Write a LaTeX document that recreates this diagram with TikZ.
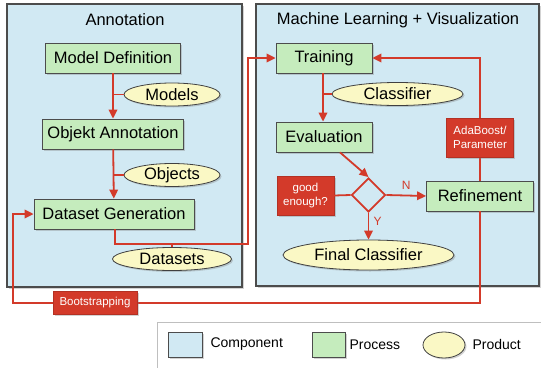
\documentclass[tikz,border=0pt]{standalone}
\usepackage{fontspec}
\setmainfont{Liberation Sans}
\usetikzlibrary{arrows.meta,positioning,shapes.geometric,shadows}
\definecolor{compblue}{RGB}{209,233,243}
\definecolor{procgreen}{RGB}{197,236,189}
\definecolor{prodyellow}{RGB}{250,248,197}
\definecolor{flowred}{RGB}{211,58,42}
\tikzset{
  softshadow/.style={drop shadow={opacity=0.35, shadow xshift=1.5pt, shadow yshift=-1.5pt}},
  panel/.style={draw=black!70, fill=compblue, line width=1.1pt, inner sep=0pt, softshadow},
  proc/.style={draw=black!70, fill=procgreen, line width=0.8pt, minimum height=30pt, inner sep=2pt, font=\fontsize{16.5}{19}\selectfont, softshadow},
  prod/.style={ellipse, draw=black!75, fill=prodyellow, line width=0.8pt, inner sep=0pt, minimum height=23pt, font=\fontsize{16.5}{19}\selectfont, softshadow},
  tag/.style={fill=flowred, draw=flowred!85!black, text=white, align=center, inner sep=2pt, font=\fontsize{11.5}{13.5}\selectfont, softshadow},
  title/.style={font=\fontsize{16.5}{19}\selectfont},
  legtext/.style={anchor=west, font=\fontsize{14}{16}\selectfont},
  arrow/.style={-{Triangle[length=9pt,width=8.5pt]}, flowred, line width=1.8pt},
  link/.style={flowred, line width=1.8pt}
}
\begin{document}
\begin{tikzpicture}[x=1pt,y=-1pt]
  \useasboundingbox (0,0) rectangle (541,367);
  % components
  \node[panel, minimum width=235pt, minimum height=283pt] (annot) at (124.5,145.5) {};
  \node[panel, minimum width=283pt, minimum height=282pt] (mlvis) at (397.5,145) {};
  \node[title] (annottitle) at (125,20) {Annotation};
  \node[title] (mltitle) at (398,20) {Machine Learning + Visualization};
  % annotation side
  \node[proc, minimum width=135pt] (moddef) at (113,58) {Model Definition};
  \node[proc, minimum width=141pt] (objann) at (113,134) {Objekt Annotation};
  \node[proc, minimum width=160pt] (dsgen) at (114,214) {Dataset Generation};
  \node[prod, minimum width=96pt] (models) at (172,94.5) {Models};
  \node[prod, minimum width=96pt] (objects) at (172,175) {Objects};
  \node[prod, minimum width=119pt] (datasets) at (172,259) {Datasets};
  % learning side
  \node[proc, minimum width=96pt] (train) at (324,58) {Training};
  \node[proc, minimum width=96pt] (eval) at (324,137) {Evaluation};
  \node[prod, minimum width=131pt] (classif) at (397.5,94) {Classifier};
  \node[diamond, draw=flowred, line width=1.8pt, fill=compblue, minimum width=34pt, minimum height=34pt, inner sep=0pt] (check) at (368.5,195) {};
  \node[tag, minimum width=57pt, minimum height=39pt] (good) at (305.5,195.5) {good\\enough?};
  \node[proc, minimum width=107pt] (refine) at (480,196) {Refinement};
  \node[prod, minimum width=171pt, minimum height=30pt] (final) at (368.5,255) {Final Classifier};
  % connectors
  \draw[arrow] (moddef) -- (objann);
  \draw[link] (models.west) -- (models.west -| moddef.south);
  \draw[arrow] (objann) -- (dsgen);
  \draw[link] (objects.west) -- (objects.west -| objann.south);
  \coordinate (dsbend) at (248,244);
  \draw[arrow] ([xshift=1pt]dsgen.south) |- (dsbend) |- (train.west);
  \draw[link] (datasets.north) -- (datasets.north |- dsbend);
  \draw[arrow] ([xshift=-1pt]train.south) -- ([xshift=-1pt]eval.north);
  \draw[link] (classif.west) -- (classif.west -| eval.north);
  \draw[arrow] ([xshift=16pt]eval.south) -- (check.north);
  \draw[link] (good.east) -- (check.west);
  \draw[arrow] (check.east) -- node[above=2pt, font=\fontsize{12}{14}\selectfont] (nlabel) {N} (refine.west);
  \draw[arrow] (check.south) -- node[right=1pt, pos=0.3, font=\fontsize{12}{14}\selectfont] (ylabel) {Y} (final.north);
  \draw[arrow] (refine.north) |- (train.east);
  \node[tag, minimum width=67pt, minimum height=39pt] (adaboost) at (480,137.5) {AdaBoost/\\Parameter};
  \coordinate (bootcorner) at (13,303);
  \draw[arrow] (refine.south) |- (bootcorner) |- (dsgen.west);
  \node[tag, minimum width=84pt, minimum height=23pt] (boot) at (95,302.5) {Bootstrapping};
  % legend
  \node[draw=black!25, fill=white, line width=0.8pt, minimum width=400pt, minimum height=48pt, anchor=north west] (legend) at (157,322) {};
  \node[draw=black!70, fill=compblue, line width=0.8pt, minimum width=34pt, minimum height=25pt, softshadow] (legcomp) at (185,344.5) {};
  \node[legtext] (legcomptext) at (207,344.5) {Component};
  \node[draw=black!70, fill=procgreen, line width=0.8pt, minimum width=33pt, minimum height=25pt, softshadow] (legproc) at (328.5,344.5) {};
  \node[legtext] (legproctext) at (346,344.5) {Process};
  \node[ellipse, draw=black!75, fill=prodyellow, line width=0.8pt, minimum width=42pt, minimum height=26pt, inner sep=0pt, softshadow] (legprod) at (444,345) {};
  \node[legtext] (legprodtext) at (469,344.5) {Product};
\end{tikzpicture}
\end{document}
